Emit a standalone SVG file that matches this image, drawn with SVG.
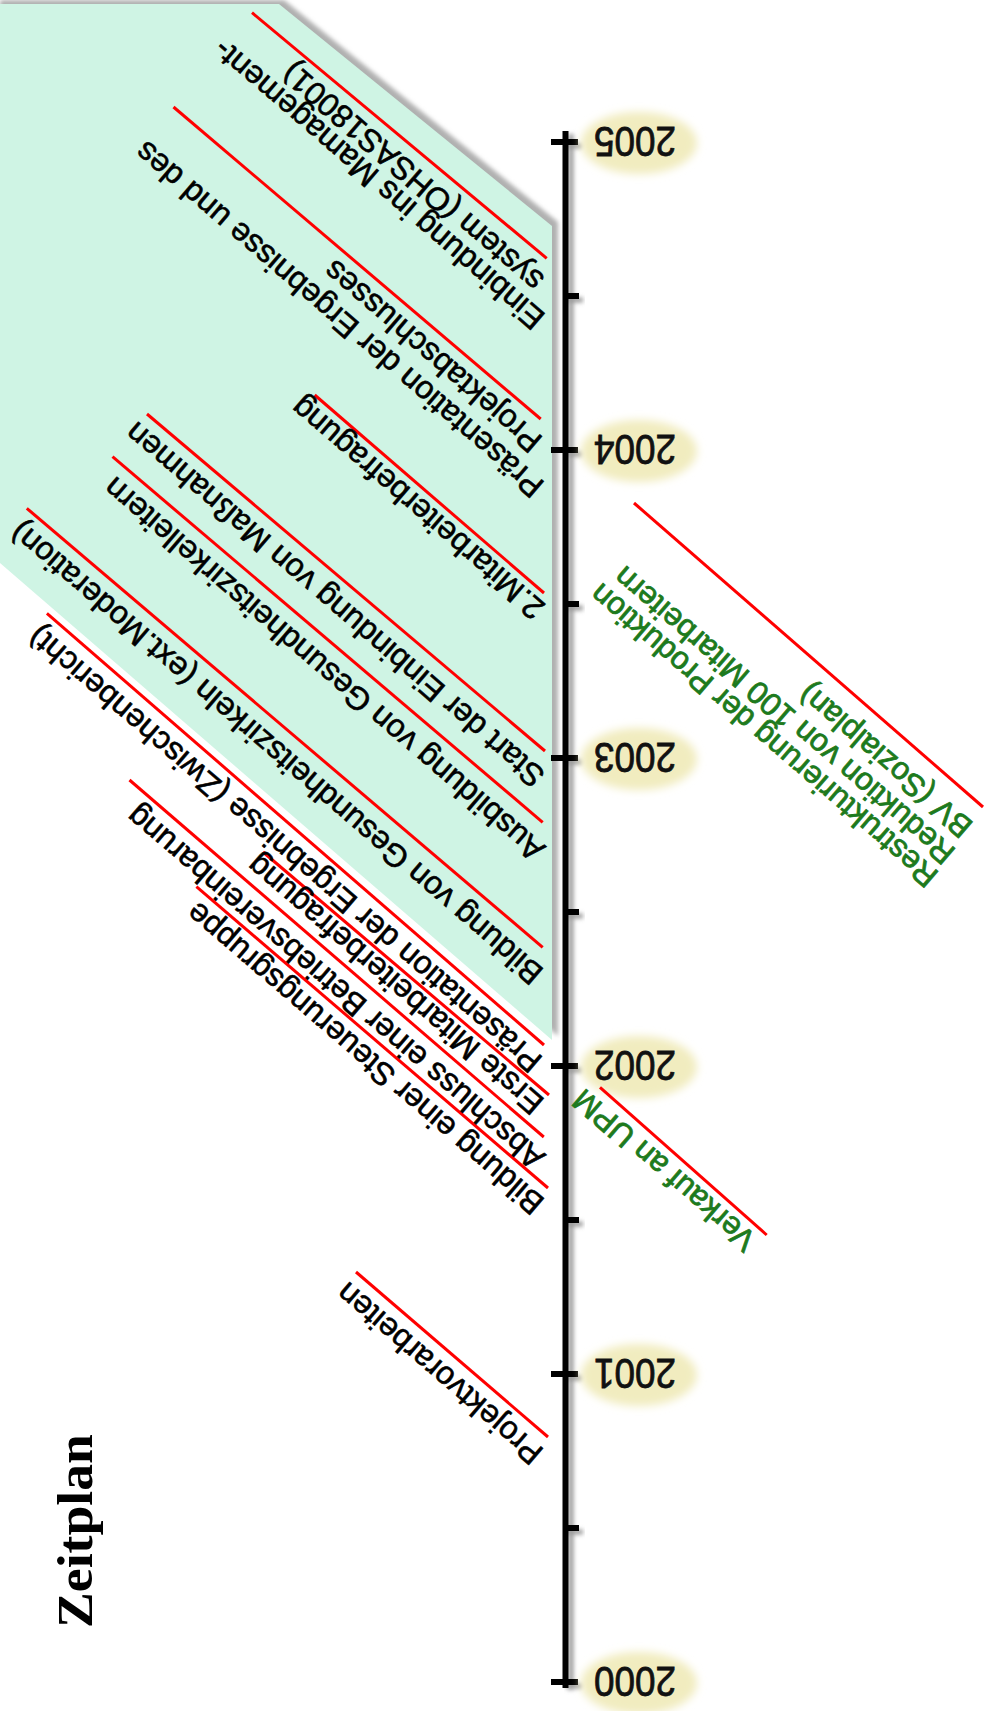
<svg xmlns="http://www.w3.org/2000/svg" width="984" height="1711" viewBox="0 0 984 1711">
<defs>
<filter id="blur2" x="-10%" y="-10%" width="120%" height="120%"><feGaussianBlur stdDeviation="2"/></filter>
<filter id="blur4" x="-30%" y="-40%" width="160%" height="180%"><feGaussianBlur stdDeviation="4"/></filter>
</defs>
<style>
.t{font-family:"Liberation Sans",Arial,sans-serif;font-size:32px;fill:#000;stroke:#000;stroke-width:0.6px}
.g{font-family:"Liberation Sans",Arial,sans-serif;font-size:31.5px;fill:#1d7a1d;stroke:#1d7a1d;stroke-width:0.8px}
.yr{font-family:"Liberation Sans",Arial,sans-serif;font-size:42px;fill:#111;stroke:#111;stroke-width:0.8px;text-anchor:middle}
.u{stroke:#ff0000;stroke-width:3;fill:none}
.ell{fill:#f1ecbf}
.ax{stroke:#000;stroke-width:6}
.axs{stroke:#9a9a9a;stroke-width:5}
</style>
<rect width="984" height="1711" fill="#ffffff"/>

<g id="phase-area">
<polygon points="0,0 284,0 558,222 558,1036 5,559" fill="#b0b0b0" filter="url(#blur2)"/>
<polygon points="0,4 279,4 552,226 552,1040 0,563" fill="#cff4e4"/>
</g>

<g id="title">
<text transform="translate(92,1628) rotate(-90)" font-family="'Liberation Serif','Times New Roman',serif" font-weight="bold" font-size="50" textLength="194" lengthAdjust="spacingAndGlyphs" fill="#000">Zeitplan</text>
</g>

<g id="timeline">
<g class="axs" filter="url(#blur2)">
<line x1="571" y1="134" x2="571" y2="1690"/>
<line x1="566" y1="146" x2="582" y2="146"/>
<line x1="566" y1="454" x2="582" y2="454"/>
<line x1="566" y1="762" x2="582" y2="762"/>
<line x1="566" y1="1070" x2="582" y2="1070"/>
<line x1="566" y1="1378" x2="582" y2="1378"/>
<line x1="566" y1="1686" x2="582" y2="1686"/>
<line x1="566" y1="300" x2="583" y2="300"/>
<line x1="566" y1="608" x2="583" y2="608"/>
<line x1="566" y1="916" x2="583" y2="916"/>
<line x1="566" y1="1224" x2="583" y2="1224"/>
<line x1="566" y1="1532" x2="583" y2="1532"/>
</g>
<line class="ax" x1="565.5" y1="131" x2="565.5" y2="1688"/>
<g class="ax">
<line x1="551" y1="142" x2="578" y2="142"/>
<line x1="551" y1="450" x2="578" y2="450"/>
<line x1="551" y1="758" x2="578" y2="758"/>
<line x1="551" y1="1066" x2="578" y2="1066"/>
<line x1="551" y1="1374" x2="578" y2="1374"/>
<line x1="551" y1="1682" x2="578" y2="1682"/>
<line x1="565" y1="296" x2="579" y2="296"/>
<line x1="565" y1="604" x2="579" y2="604"/>
<line x1="565" y1="912" x2="579" y2="912"/>
<line x1="565" y1="1220" x2="579" y2="1220"/>
<line x1="565" y1="1528" x2="579" y2="1528"/>
</g>
</g>

<g id="year-2005"><ellipse class="ell" cx="639" cy="143" rx="58" ry="31" filter="url(#blur4)"/><text class="yr" transform="translate(635,142) rotate(180)" y="15" textLength="82" lengthAdjust="spacingAndGlyphs">2005</text></g>
<g id="year-2004"><ellipse class="ell" cx="639" cy="451" rx="58" ry="31" filter="url(#blur4)"/><text class="yr" transform="translate(635,450) rotate(180)" y="15" textLength="82" lengthAdjust="spacingAndGlyphs">2004</text></g>
<g id="year-2003"><ellipse class="ell" cx="639" cy="759" rx="58" ry="31" filter="url(#blur4)"/><text class="yr" transform="translate(635,758) rotate(180)" y="15" textLength="82" lengthAdjust="spacingAndGlyphs">2003</text></g>
<g id="year-2002"><ellipse class="ell" cx="639" cy="1067" rx="58" ry="31" filter="url(#blur4)"/><text class="yr" transform="translate(635,1066) rotate(180)" y="15" textLength="82" lengthAdjust="spacingAndGlyphs">2002</text></g>
<g id="year-2001"><ellipse class="ell" cx="639" cy="1375" rx="58" ry="31" filter="url(#blur4)"/><text class="yr" transform="translate(635,1374) rotate(180)" y="15" textLength="82" lengthAdjust="spacingAndGlyphs">2001</text></g>
<g id="year-2000"><ellipse class="ell" cx="639" cy="1683" rx="58" ry="31" filter="url(#blur4)"/><text class="yr" transform="translate(635,1682) rotate(180)" y="15" textLength="82" lengthAdjust="spacingAndGlyphs">2000</text></g>

<g id="connectors">
<line class="u" x1="252" y1="12.7" x2="546.7" y2="258.3"/>
<line class="u" x1="173.5" y1="107" x2="540.7" y2="419"/>
<line class="u" x1="314.7" y1="395" x2="544" y2="593"/>
<line class="u" x1="147" y1="414" x2="545" y2="751"/>
<line class="u" x1="112.5" y1="456.7" x2="542.7" y2="822.3"/>
<line class="u" x1="26.8" y1="508.3" x2="542.7" y2="947.3"/>
<line class="u" x1="46.9" y1="613.3" x2="544" y2="1045"/>
<line class="u" x1="263" y1="852" x2="549" y2="1095"/>
<line class="u" x1="129.5" y1="780" x2="543.8" y2="1137"/>
<line class="u" x1="196.4" y1="886.7" x2="548" y2="1188"/>
<line class="u" x1="356" y1="1272" x2="548" y2="1437"/>
<line class="u" x1="600" y1="1087.3" x2="766.7" y2="1235"/>
<line class="u" x1="634" y1="503" x2="983" y2="807"/>
</g>

<g id="n-einbindung" transform="translate(546.7,315) rotate(220.7)">
<text class="t"><tspan x="0" y="0">Einbindung ins Mamagement-</tspan><tspan x="25.3" y="27.9">system (OHSAS18001)</tspan></text>
</g>
<g id="n-praesentation-abschluss" transform="translate(545.7,483) rotate(220.7)">
<text class="t"><tspan x="0" y="0">Präsentation der Ergebnisse und des</tspan><tspan x="30.6" y="33">Projektabschlusses</tspan></text>
</g>
<g id="n-mitarbeiterbefragung2" transform="translate(546.7,605) rotate(220.7)">
<text class="t">2.Mitarbeiterbefragung</text>
</g>
<g id="n-start-einbindung" transform="translate(546.7,773) rotate(220.7)">
<text class="t">Start der Einbindung von Maßnahmen</text>
</g>
<g id="n-ausbildung" transform="translate(546.7,846.7) rotate(220.7)">
<text class="t">Ausbildung von Gesundheitszirkelleitern</text>
</g>
<g id="n-bildung-gz" transform="translate(545,970) rotate(220.7)">
<text class="t">Bildung von Gesundheitszirkeln (ext.Moderation)</text>
</g>
<g id="n-praesentation-zwischen" transform="translate(544,1058) rotate(220.7)">
<text class="t">Präsentation der Ergebnisse (Zwischenbericht)</text>
</g>
<g id="n-erste-befragung" transform="translate(545.7,1100) rotate(220.7)">
<text class="t">Erste Mitarbeiterbefragung</text>
</g>
<g id="n-betriebsvereinbarung" transform="translate(546.7,1155) rotate(220.7)">
<text class="t">Abschluss einer Betriebsvereinbarung</text>
</g>
<g id="n-steuerungsgruppe" transform="translate(546,1200) rotate(220.7)">
<text class="t">Bildung einer Steuerungsgruppe</text>
</g>
<g id="n-projektvorarbeiten" transform="translate(545,1450) rotate(220.7)">
<text class="t">Projektvorarbeiten</text>
</g>
<g id="n-verkauf" transform="translate(758,1237) rotate(220.7)">
<text class="g">Verkauf an UPM</text>
</g>
<g id="n-restrukturierung" transform="translate(940,873) rotate(220.7)">
<text class="g"><tspan x="0" y="0">Restrukturierung der Produktion</tspan><tspan x="2" y="28.5">Reduktion von 100 Mitarbeitern</tspan><tspan x="6" y="60">BV (Sozialplan)</tspan></text>
</g>
</svg>
